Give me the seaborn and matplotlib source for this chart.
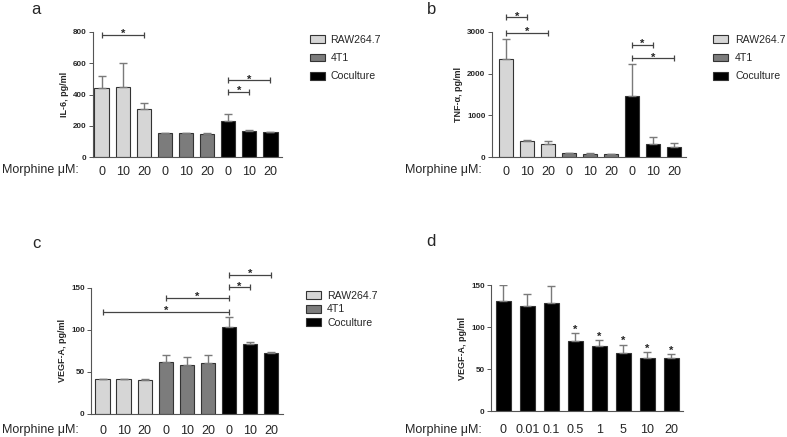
import numpy as np
import pandas as pd
import matplotlib
matplotlib.use("Agg")
import matplotlib.pyplot as plt
from matplotlib.patches import Patch
import seaborn as sns

sns.set_style("white")
plt.rcParams['font.family'] = ['Liberation Sans', 'DejaVu Sans']

# ---------------- data ----------------
groups = ["RAW264.7", "4T1", "Coculture"]
doses = ["0", "10", "20"]

il6_mean = [439, 450, 306, 153, 153, 151, 234, 166, 159]
il6_sem = [81, 153, 42, 3, 2, 2, 44, 8, 4]

tnf_mean = [2339, 400, 320, 96, 88, 82, 1472, 320, 248]
tnf_sem = [485, 20, 64, 8, 6, 5, 760, 160, 104]

vegf_mean = [41.3, 41.5, 41.0, 62.3, 58.3, 60.3, 103.0, 83.3, 73.0]
vegf_sem = [0.4, 0.4, 0.3, 7.9, 9.2, 9.9, 12.5, 2.7, 1.2]

d_doses = ["0", "0.01", "0.1", "0.5", "1", "5", "10", "20"]
d_mean = [131.7, 125.4, 129.4, 83.3, 78.2, 69.0, 63.9, 63.0]
d_sem = [18.3, 14.6, 19.4, 9.6, 7.1, 10.4, 6.7, 5.3]
d_star = [False, False, False, True, True, True, True, True]

# significance brackets: (bar i, bar j, y level)
a_brackets = [(0, 2, 781), (6, 7, 418), (6, 8, 493)]
b_brackets = [(0, 1, 3340), (0, 2, 2975), (6, 7, 2690), (6, 8, 2374)]
c_brackets = [(0, 6, 121.8), (3, 6, 138.5), (6, 7, 151), (6, 8, 166)]

colors = {"RAW264.7": "#d6d6d6", "4T1": "#7c7c7c", "Coculture": "#000000"}
edge = "#333333"
err_col = "#7a7a7a"

W, H = 787, 437
fig = plt.figure(figsize=(W / 100, H / 100), dpi=100)


def rect(x0, x1, ytop, ybot):
    return [x0 / W, 1 - ybot / H, (x1 - x0) / W, (ybot - ytop) / H]


def style_axes(ax, ylim, yticks, ylabel, xlim, pad):
    ax.set_ylim(*ylim)
    ax.set_yticks(yticks)
    ax.set_xlim(*xlim)
    for s in ["top", "right"]:
        ax.spines[s].set_visible(False)
    for s in ["left", "bottom"]:
        ax.spines[s].set_color("#555555")
        ax.spines[s].set_linewidth(0.8)
    ax.tick_params(axis="y", direction="out", length=3, width=0.7, color="#555555",
                   labelsize=5.8, pad=1.5, left=True)
    for t in ax.get_yticklabels():
        t.set_fontweight("bold")
    ax.tick_params(axis="x", length=0, labelsize=9, pad=pad)
    ax.set_ylabel(ylabel, fontsize=6.5, fontweight="bold", labelpad=3)
    ax.set_xlabel("")


def star(ax, x, y, dy):
    ax.annotate("*", (x, y), xytext=(0, dy), textcoords="offset points",
                ha="center", va="baseline", fontsize=8, fontweight="bold",
                annotation_clip=False)


def grouped_panel(rct, means, sems, ylim, yticks, ylabel, xlim, brackets, pad):
    ax = fig.add_axes(rct)
    keys = [f"{g}|{d}" for g in groups for d in doses]
    df = pd.DataFrame({
        "key": keys,
        "group": [g for g in groups for d in doses],
        "value": means,
    })
    sns.barplot(data=df, x="key", y="value", hue="group", order=keys,
                hue_order=groups, palette=colors, dodge=False, width=0.68,
                edgecolor=edge, linewidth=0.8, errorbar=None, legend=False, ax=ax)
    xs = np.arange(len(means))
    ax.errorbar(xs, means, yerr=[np.zeros(len(sems)), sems], fmt="none",
                ecolor=err_col, elinewidth=1.0, capsize=3, capthick=1.0, zorder=1)
    ax.set_xticks(xs)
    ax.set_xticklabels([d for g in groups for d in doses])
    style_axes(ax, ylim, yticks, ylabel, xlim, pad)
    for i, j, y in brackets:
        ax.plot([i, j], [y, y], color="#444444", lw=0.9, clip_on=False)
        ax.plot([i, j], [y, y], ls="none", marker="|", ms=4.5, mew=0.9,
                color="#444444", clip_on=False)
        star(ax, (i + j) / 2, y, -1.8)
    return ax


ax_a = grouped_panel(rect(93, 282, 31.7, 157.3), il6_mean, il6_sem, (0, 800),
                     [0, 200, 400, 600, 800], "IL-6, pg/ml", (-0.41, 8.55), a_brackets, 6)
ax_b = grouped_panel(rect(491.7, 686, 31.7, 157.3), tnf_mean, tnf_sem, (0, 3000),
                     [0, 1000, 2000, 3000], "TNF-\u03b1, pg/ml", (-0.70, 8.57), b_brackets, 6)
ax_c = grouped_panel(rect(91, 282.7, 288, 414), vegf_mean, vegf_sem, (0, 150),
                     [0, 50, 100, 150], "VEGF-A, pg/ml", (-0.55, 8.55), c_brackets, 8)

# panel d
ax_d = fig.add_axes(rect(491, 682.7, 285.3, 411.3))
dfd = pd.DataFrame({"dose": d_doses, "value": d_mean})
sns.barplot(data=dfd, x="dose", y="value", order=d_doses, color="#000000",
            width=0.64, edgecolor=edge, linewidth=0.8, errorbar=None, ax=ax_d)
xs = np.arange(len(d_mean))
ax_d.errorbar(xs, d_mean, yerr=[np.zeros(len(d_sem)), d_sem], fmt="none",
              ecolor=err_col, elinewidth=1.0, capsize=3, capthick=1.0, zorder=1)
style_axes(ax_d, (0, 150), [0, 50, 100, 150], "VEGF-A, pg/ml", (-0.52, 7.48), 9)
for x, m, s, st in zip(xs, d_mean, d_sem, d_star):
    if st:
        star(ax_d, x, m + s, 0.2)

# "Morphine µM:" labels
for (x, y) in [(2, 170), (405, 170), (2, 430), (405, 430)]:
    fig.text(x / W, 1 - y / H, "Morphine \u03bcM:", fontsize=9, ha="left", va="center")

# panel letters
for (x, y, t) in [(35.5, 10, "a"), (432, 9, "b"), (36, 244, "c"), (431, 241, "d")]:
    fig.text(x / W, 1 - y / H, t, fontsize=12, ha="center", va="center")

# legends
handles = [Patch(facecolor=colors[g], edgecolor=edge, linewidth=0.8, label=g) for g in groups]
for (x, y, sp, tp) in [(310, 35, 0.78, 0.55), (713, 35, 0.78, 0.7), (306, 291, 0.33, 0.6)]:
    fig.legend(handles=handles, loc="upper left", bbox_to_anchor=(x / W, 1 - y / H),
               frameon=False, fontsize=7.6, handlelength=1.4, handleheight=0.75,
               handletextpad=tp, labelspacing=sp, borderpad=0, borderaxespad=0)

fig.savefig("out.png", dpi=100)
